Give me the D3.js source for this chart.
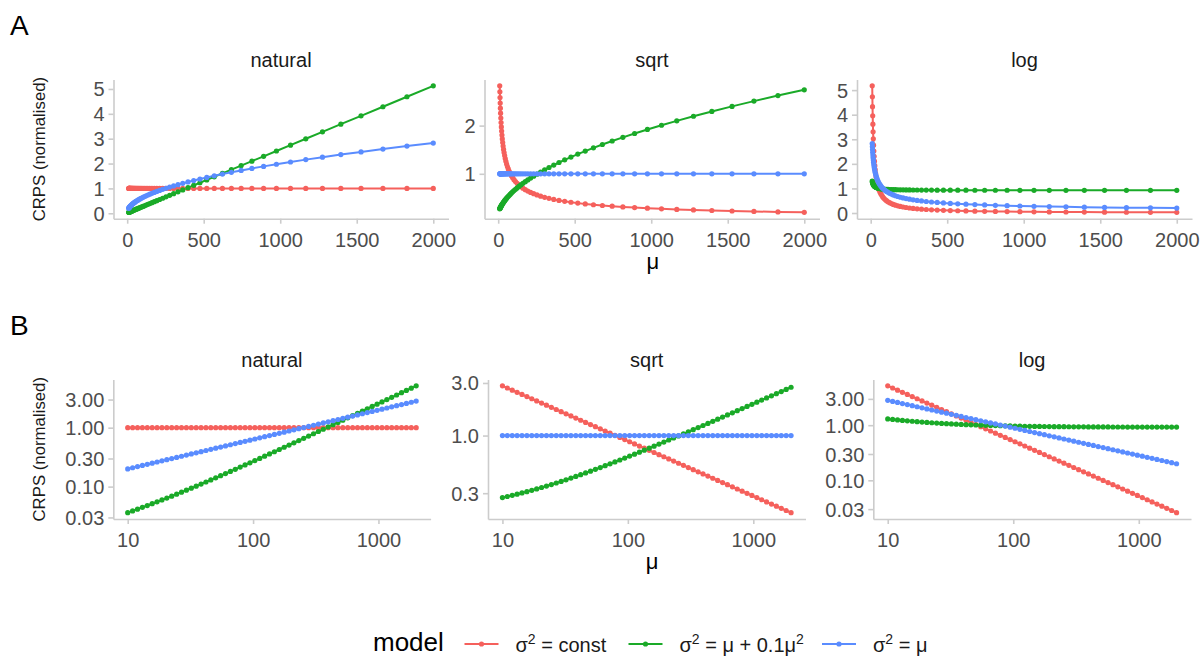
<!DOCTYPE html>
<html lang="en">
<head>
<meta charset="UTF-8" />
<title>CRPS (normalised)</title>
<script src="https://cdn.jsdelivr.net/npm/d3@7"></script>
<style>
  body { margin: 0; background: #fff; }
  svg { display: block; font-family: "Liberation Sans", Arial, sans-serif; }
</style>
</head>
<body>
<svg width="1202" height="657"></svg>
<script>
// mu grid (same in every panel)
const mu = [10, 10.94, 11.97, 13.09, 14.32, 15.67, 17.14, 18.75, 20.51, 22.44, 24.55, 26.85, 29.38, 32.14, 35.16, 38.46, 42.07, 46.03, 50.35, 55.08,
  60.26, 65.92, 72.11, 78.89, 86.30, 94.41, 103.3, 113.0, 123.6, 135.2, 147.9, 161.8, 177.0, 193.6, 211.8, 231.7, 253.5, 277.3, 303.4, 331.9,
  363.1, 397.2, 434.5, 475.3, 520.0, 568.9, 622.3, 680.8, 744.7, 814.7, 891.3, 975.0, 1067, 1167, 1276, 1396, 1528, 1671, 1828, 2000];

// natural scale
const naturalConst = [1, 1, 1, 1, 1, 1, 1, 1, 1, 1, 1, 1, 1, 1, 1, 1, 1, 1, 1, 1, 1, 1, 1, 1, 1, 1, 1, 1, 1, 1,
  1, 1, 1, 1, 1, 1, 1, 1, 1, 1, 1, 1, 1, 1, 1, 1, 1, 1, 1, 1, 1, 1, 1, 1, 1, 1, 1, 1, 1, 1];
const naturalQuad = [0.03616, 0.03870, 0.04145, 0.04446, 0.04772, 0.05127, 0.05515, 0.05936, 0.06396, 0.06898, 0.07446, 0.08043, 0.08696, 0.09409, 0.1019,
  0.1104, 0.1197, 0.1298, 0.1409, 0.1531, 0.1664, 0.1809, 0.1967, 0.2142, 0.2331, 0.2538, 0.2766, 0.3014, 0.3285, 0.3583,
  0.3908, 0.4263, 0.4652, 0.5077, 0.5543, 0.6052, 0.6608, 0.7217, 0.7884, 0.8613, 0.9410, 1.0282, 1.1237, 1.2281, 1.3423,
  1.4672, 1.6038, 1.7533, 1.9169, 2.0958, 2.2915, 2.5056, 2.7398, 2.9960, 3.2762, 3.5831, 3.9185, 4.2854, 4.6869, 5.1263];
const naturalPois = [0.1998, 0.2090, 0.2186, 0.2286, 0.2391, 0.2501, 0.2616, 0.2736, 0.2861, 0.2993, 0.3130, 0.3274, 0.3424, 0.3582, 0.3746,
  0.3918, 0.4098, 0.4286, 0.4483, 0.4689, 0.4904, 0.5129, 0.5365, 0.5611, 0.5869, 0.6138, 0.6421, 0.6715, 0.7023, 0.7346,
  0.7683, 0.8036, 0.8405, 0.8791, 0.9195, 0.9617, 1.0059, 1.0521, 1.1004, 1.1509, 1.2038, 1.2591, 1.3169, 1.3774, 1.4407,
  1.5068, 1.5760, 1.6484, 1.7241, 1.8033, 1.8861, 1.9727, 2.0633, 2.1580, 2.2571, 2.3608, 2.4692, 2.5826, 2.7012, 2.8254];

// sqrt scale
const sqrtConst = [2.8254, 2.7012, 2.5826, 2.4692, 2.3608, 2.2571, 2.1580, 2.0633, 1.9727, 1.8861, 1.8033, 1.7241, 1.6484, 1.5760, 1.5068,
  1.4407, 1.3774, 1.3169, 1.2591, 1.2038, 1.1509, 1.1004, 1.0521, 1.0059, 0.9617, 0.9195, 0.8791, 0.8405, 0.8036, 0.7683,
  0.7346, 0.7023, 0.6715, 0.6421, 0.6138, 0.5869, 0.5611, 0.5365, 0.5129, 0.4904, 0.4689, 0.4483, 0.4286, 0.4098, 0.3918,
  0.3746, 0.3582, 0.3424, 0.3274, 0.3130, 0.2993, 0.2861, 0.2736, 0.2616, 0.2501, 0.2391, 0.2286, 0.2186, 0.2090, 0.1998];
const sqrtQuad = [0.2736, 0.2799, 0.2867, 0.2940, 0.3017, 0.3099, 0.3187, 0.3280, 0.3379, 0.3484, 0.3596, 0.3714, 0.3839, 0.3971, 0.4111,
  0.4259, 0.4415, 0.4579, 0.4753, 0.4935, 0.5128, 0.5330, 0.5544, 0.5768, 0.6003, 0.6251, 0.6511, 0.6784, 0.7071, 0.7372,
  0.7688, 0.8019, 0.8366, 0.8730, 0.9112, 0.9512, 0.9931, 1.0370, 1.0830, 1.1312, 1.1816, 1.2345, 1.2898, 1.3477, 1.4084,
  1.4719, 1.5383, 1.6079, 1.6807, 1.7568, 1.8366, 1.9200, 2.0073, 2.0986, 2.1942, 2.2942, 2.3989, 2.5083, 2.6228, 2.7427];
const sqrtPois = [1, 1, 1, 1, 1, 1, 1, 1, 1, 1, 1, 1, 1, 1, 1, 1, 1, 1, 1, 1, 1, 1, 1, 1, 1, 1, 1, 1, 1, 1,
  1, 1, 1, 1, 1, 1, 1, 1, 1, 1, 1, 1, 1, 1, 1, 1, 1, 1, 1, 1, 1, 1, 1, 1, 1, 1, 1, 1, 1, 1];

// log scale
const logConst = [5.174, 4.730, 4.324, 3.952, 3.613, 3.302, 3.019, 2.760, 2.523, 2.306, 2.108, 1.927, 1.761, 1.610, 1.472,
  1.345, 1.230, 1.124, 1.028, 0.9394, 0.8587, 0.7850, 0.7175, 0.6559, 0.5996, 0.5481, 0.5010, 0.4580, 0.4187, 0.3827,
  0.3498, 0.3198, 0.2923, 0.2672, 0.2443, 0.2233, 0.2041, 0.1866, 0.1706, 0.1559, 0.1425, 0.1303, 0.1191, 0.1089, 0.09950,
  0.09096, 0.08315, 0.07601, 0.06948, 0.06351, 0.05806, 0.05307, 0.04851, 0.04435, 0.04054, 0.03705, 0.03387, 0.03096, 0.02830, 0.02587];
const logQuad = [1.3011, 1.2728, 1.2465, 1.2219, 1.1989, 1.1776, 1.1577, 1.1392, 1.1221, 1.1062, 1.0914, 1.0778, 1.0652, 1.0535, 1.0427,
  1.0327, 1.0235, 1.0150, 1.0072, 1.0001, 0.9934, 0.9873, 0.9817, 0.9766, 0.9719, 0.9675, 0.9635, 0.9599, 0.9565, 0.9534,
  0.9506, 0.9480, 0.9457, 0.9435, 0.9415, 0.9397, 0.9380, 0.9365, 0.9351, 0.9338, 0.9326, 0.9315, 0.9305, 0.9297, 0.9288,
  0.9281, 0.9274, 0.9267, 0.9262, 0.9256, 0.9252, 0.9247, 0.9243, 0.9240, 0.9236, 0.9233, 0.9230, 0.9228, 0.9225, 0.9223];
const logPois = [2.8254, 2.7012, 2.5826, 2.4692, 2.3608, 2.2571, 2.1580, 2.0633, 1.9727, 1.8861, 1.8033, 1.7241, 1.6484, 1.5760, 1.5068,
  1.4407, 1.3774, 1.3169, 1.2591, 1.2038, 1.1509, 1.1004, 1.0521, 1.0059, 0.9617, 0.9195, 0.8791, 0.8405, 0.8036, 0.7683,
  0.7346, 0.7023, 0.6715, 0.6421, 0.6138, 0.5869, 0.5611, 0.5365, 0.5129, 0.4904, 0.4689, 0.4483, 0.4286, 0.4098, 0.3918,
  0.3746, 0.3582, 0.3424, 0.3274, 0.3130, 0.2993, 0.2861, 0.2736, 0.2616, 0.2501, 0.2391, 0.2286, 0.2186, 0.2090, 0.1998];

const transforms = ["natural", "sqrt", "log"];
const seriesByTransform = {
  natural: [naturalConst, naturalQuad, naturalPois],
  sqrt: [sqrtConst, sqrtQuad, sqrtPois],
  log: [logConst, logQuad, logPois]
};

const xTicksLinear = [0, 500, 1000, 1500, 2000];
const xTicksLog = [10, 100, 1000];
const yTicksLinear = { natural: [0, 1, 2, 3, 4, 5], sqrt: [1, 2], log: [0, 1, 2, 3, 4, 5] };
const yTicksLog = { natural: [0.03, 0.1, 0.3, 1, 3], sqrt: [0.3, 1, 3], log: [0.03, 0.1, 0.3, 1, 3] };

const colors = ["#f5605c", "#1aaa28", "#5a8cff"];
const axisColor = "#cccccc";
const tickTextColor = "#4d4d4d";

const svg = d3.select("svg");

const rows = [
  { label: "A", top: 79.5, bottom: 218.7, log: false,
    panels: [[113.5, 448.5], [484.5, 819.5], [857, 1192]] },
  { label: "B", top: 379.5, bottom: 519, log: true,
    panels: [[113.3, 430.6], [488, 805.5], [873.3, 1191]] }
];

rows.forEach(row => {
  const g = svg.append("g");

  g.append("text")
    .attr("x", 10).attr("y", row.top - 44.5)
    .style("font-size", "28px").attr("fill", "#000")
    .text(row.label);

  g.append("text")
    .attr("transform", `translate(45,${(row.top + row.bottom) / 2}) rotate(-90)`)
    .attr("text-anchor", "middle")
    .style("font-size", "16.8px").attr("fill", "#1a1a1a")
    .text("CRPS (normalised)");

  g.append("text")
    .attr("x", (row.panels[0][0] + row.panels[2][1]) / 2)
    .attr("y", row.bottom + 50)
    .attr("text-anchor", "middle")
    .style("font-size", "22px").attr("fill", "#000")
    .text("μ");

  transforms.forEach((tr, j) => {
    const [x0, x1] = row.panels[j];
    const series = seriesByTransform[tr];
    const allVals = series.flat();
    const lo = d3.min(allVals), hi = d3.max(allVals);

    let x, y;
    if (row.log) {
      const lx0 = Math.log10(d3.min(mu)), lx1 = Math.log10(d3.max(mu));
      const px = (lx1 - lx0) * 0.05;
      x = d3.scaleLog().domain([10 ** (lx0 - px), 10 ** (lx1 + px)]).range([x0, x1]);
      const ly0 = Math.log10(lo), ly1 = Math.log10(hi);
      const py = (ly1 - ly0) * 0.05;
      y = d3.scaleLog().domain([10 ** (ly0 - py), 10 ** (ly1 + py)]).range([row.bottom, row.top]);
    } else {
      const px = (d3.max(mu) - d3.min(mu)) * 0.05;
      x = d3.scaleLinear().domain([d3.min(mu) - px, d3.max(mu) + px]).range([x0, x1]);
      const py = (hi - lo) * 0.05;
      y = d3.scaleLinear().domain([lo - py, hi + py]).range([row.bottom, row.top]);
    }

    // facet title
    g.append("text")
      .attr("x", (x0 + x1) / 2).attr("y", row.top - 13)
      .attr("text-anchor", "middle")
      .style("font-size", "20px").attr("fill", "#1a1a1a")
      .text(tr);

    // axes
    const xAxis = g.append("g")
      .attr("transform", `translate(0,${row.bottom})`)
      .call(d3.axisBottom(x)
        .tickValues(row.log ? xTicksLog : xTicksLinear)
        .tickFormat(d3.format("d"))
        .tickSizeInner(5).tickSizeOuter(0));
    xAxis.selectAll("text").attr("y", 28).attr("dy", null);

    const yFmt = row.log ? (tr === "sqrt" ? d3.format(".1f") : d3.format(".2f")) : d3.format("d");
    const yAxis = g.append("g")
      .attr("transform", `translate(${x0},0)`)
      .call(d3.axisLeft(y)
        .tickValues(row.log ? yTicksLog[tr] : yTicksLinear[tr])
        .tickFormat(yFmt)
        .tickSizeInner(5).tickSizeOuter(0));
    yAxis.selectAll("text").attr("x", -9).attr("dy", "0.35em");

    [xAxis, yAxis].forEach(a => {
      a.attr("font-family", null).attr("font-size", null);
      a.selectAll("path, line").attr("stroke", axisColor).attr("stroke-width", 1.6);
      a.selectAll("text").attr("fill", tickTextColor).style("font-size", "20px");
    });

    // lines then points
    const line = d3.line()
      .x((d, i) => x(mu[i]))
      .y(d => y(d));

    series.forEach((vals, k) => {
      g.append("path")
        .datum(vals)
        .attr("fill", "none")
        .attr("stroke", colors[k])
        .attr("stroke-width", 2)
        .attr("d", line);
    });
    series.forEach((vals, k) => {
      g.append("g").selectAll("circle")
        .data(vals)
        .join("circle")
        .attr("cx", (d, i) => x(mu[i]))
        .attr("cy", d => y(d))
        .attr("r", 2.6)
        .attr("fill", colors[k]);
    });
  });
});

// legend
const legend = svg.append("g");
const legendY = 644;

legend.append("text")
  .attr("x", 373).attr("y", legendY + 7)
  .style("font-size", "26px").attr("fill", "#000")
  .text("model");

const legendItems = [
  { x: 464.5, parts: [["σ"], ["2", "sup"], [" = const"]] },
  { x: 628.5, parts: [["σ"], ["2", "sup"], [" = μ + 0.1μ"], ["2", "sup"]] },
  { x: 822, parts: [["σ"], ["2", "sup"], [" = μ"]] }
];

legendItems.forEach((item, k) => {
  legend.append("line")
    .attr("x1", item.x).attr("x2", item.x + 34)
    .attr("y1", legendY).attr("y2", legendY)
    .attr("stroke", colors[k]).attr("stroke-width", 2);
  legend.append("circle")
    .attr("cx", item.x + 17).attr("cy", legendY).attr("r", 2.6)
    .attr("fill", colors[k]);

  const t = legend.append("text")
    .attr("x", item.x + 51).attr("y", legendY + 8)
    .style("font-size", "20px").attr("fill", "#1a1a1a");
  let raised = false;
  item.parts.forEach(([s, kind]) => {
    const sp = t.append("tspan").text(s);
    if (kind === "sup") {
      sp.attr("dy", -8).style("font-size", "14px");
      raised = true;
    } else if (raised) {
      sp.attr("dy", 8);
      raised = false;
    }
  });
});
</script>
</body>
</html>
